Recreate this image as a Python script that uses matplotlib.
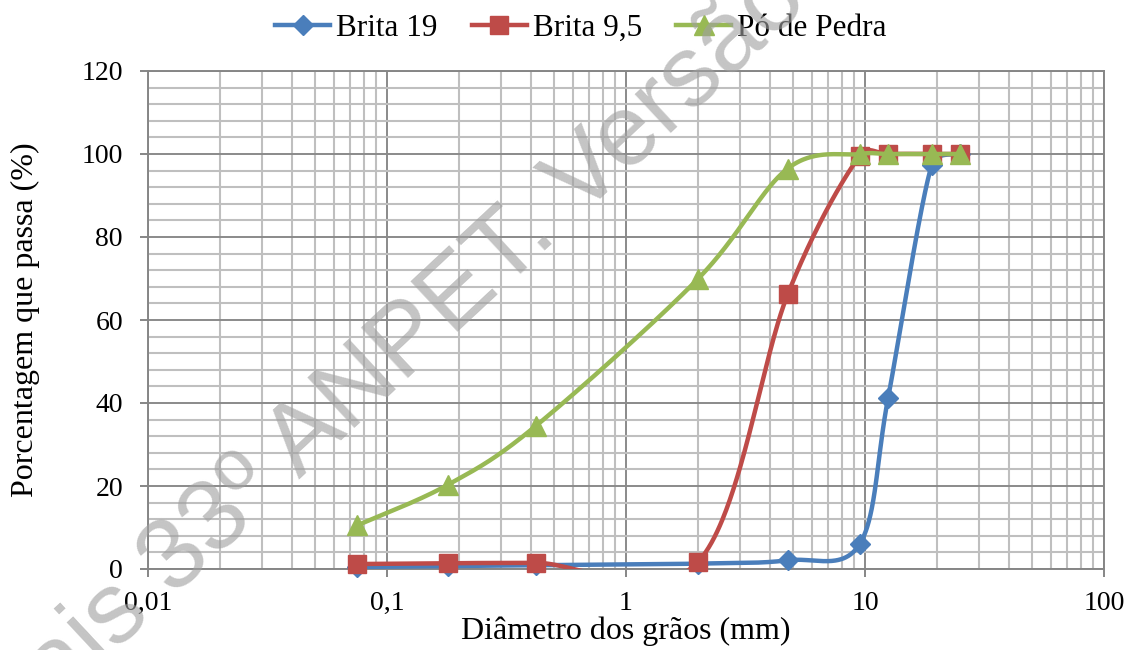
import numpy as np
import matplotlib
matplotlib.use("Agg")
import matplotlib.pyplot as plt
from matplotlib.lines import Line2D
from matplotlib.ticker import FixedLocator, FixedFormatter, LogLocator, MultipleLocator, NullFormatter

# ---- data ----
diam = [0.075, 0.18, 0.42, 2.0, 4.75, 9.5, 12.5, 19.0, 25.0]
brita19 = [0.5, 0.7, 0.9, 1.3, 2.1, 6.0, 41.3, 97.3, 100.0]
brita95 = [1.2, 1.4, 1.5, 1.7, 66.2, 99.6, 100.0, 100.0, 100.0]
po_pedra = [10.5, 20.3, 34.5, 69.9, 96.5, 100.0, 100.0, 100.0, 100.0]
series_names = ["Brita 19", "Brita 9,5", "Pó de Pedra"]
x_ticks = [0.01, 0.1, 1, 10, 100]
x_ticklabels = ["0,01", "0,1", "1", "10", "100"]
y_ticks = [0, 20, 40, 60, 80, 100, 120]

colors = ["#4A7EBB", "#BE4B48", "#98B954"]
markers = ["D", "s", "^"]
msizes = [10.5, 13.5, 14]

plt.rcParams['font.family'] = ['Liberation Serif', 'DejaVu Serif']


def excel_smooth(ax, xs, ys, n=80):
    """Excel-like smoothed line: cubic Bezier, Catmull-Rom tangents with arm length
    clamped to half the segment, computed in screen pixels."""
    P = ax.transData.transform(np.column_stack([xs, ys]).astype(float))
    m = len(P)
    out = []
    for i in range(m - 1):
        p0 = P[i - 1] if i > 0 else P[i]
        p1 = P[i]
        p2 = P[i + 1]
        p3 = P[i + 2] if i + 2 < m else P[i + 1]
        d12 = np.hypot(*(p2 - p1))
        v02 = p2 - p0
        v13 = p3 - p1
        d02 = np.hypot(*v02)
        d13 = np.hypot(*v13)
        a1 = min(d02 / 6.0, d12 / 2.0)
        a2 = min(d13 / 6.0, d12 / 2.0)
        c1 = p1 + (v02 / d02 * a1 if d02 > 0 else 0)
        c2 = p2 - (v13 / d13 * a2 if d13 > 0 else 0)
        t = np.linspace(0, 1, n)[:, None]
        b = ((1 - t) ** 3) * p1 + 3 * ((1 - t) ** 2) * t * c1 + 3 * (1 - t) * t ** 2 * c2 + t ** 3 * p2
        out.append(b if i == 0 else b[1:])
    B = np.vstack(out)
    D = ax.transData.inverted().transform(B)
    return D[:, 0], D[:, 1]


fig = plt.figure(figsize=(11.26, 6.5), dpi=100)
ax = fig.add_axes([148 / 1126, 81 / 650, (1104 - 148) / 1126, (569 - 71) / 650])

ax.set_xscale('log')
ax.set_xlim(0.01, 100)
ax.set_ylim(0, 120)

# grid
ax.xaxis.set_major_locator(FixedLocator(x_ticks))
ax.xaxis.set_major_formatter(FixedFormatter(x_ticklabels))
ax.xaxis.set_minor_locator(LogLocator(base=10, subs=np.arange(2, 10)))
ax.xaxis.set_minor_formatter(NullFormatter())
ax.yaxis.set_major_locator(FixedLocator(y_ticks))
ax.yaxis.set_minor_locator(MultipleLocator(4))

ax.grid(which='minor', color='#BFBFBF', linewidth=1.5, zorder=0)
ax.grid(which='major', color='#8A8A8A', linewidth=1.4, zorder=0.5)
ax.set_axisbelow(True)

for s in ax.spines.values():
    s.set_color('#868686')
    s.set_linewidth(1.4)

ax.tick_params(which='major', direction='out', length=6, width=1.4, color='#868686',
               labelsize=20)
ax.tick_params(axis='y', which='major', pad=12)
ax.tick_params(axis='x', which='major', pad=10)
ax.tick_params(which='minor', length=0)

data = [brita19, brita95, po_pedra]
handles = []
for k, ys in enumerate(data):
    sx, sy = excel_smooth(ax, diam, ys)
    ax.plot(sx, sy, color=colors[k], linewidth=3.2, solid_capstyle='round', zorder=3 + k)
    ax.plot(diam, ys, linestyle='none', marker=markers[k], markersize=msizes[k],
            color=colors[k], markeredgecolor=colors[k], zorder=3.5 + k, clip_on=False)
    handles.append(Line2D([0], [0], color=colors[k], linewidth=3.2, marker=markers[k],
                          markersize=msizes[k], markeredgecolor=colors[k]))

ax.set_xlabel("Diâmetro dos grãos (mm)", fontsize=23, labelpad=0)
ax.set_ylabel("Porcentagem que passa (%)", fontsize=23, labelpad=30)

fig.legend(handles, series_names, loc='center', bbox_to_anchor=(581 / 1126, 1 - 28 / 650),
           ncol=3, frameon=False, fontsize=22.5, handlelength=1.75, handletextpad=0.2,
           columnspacing=1.1, borderpad=0, borderaxespad=0)

# watermark
fig.text(-33 / 1126, 1 - 789 / 650, "Anais 33º ANPET. Versão Final", rotation=43,
         rotation_mode='anchor', ha='left', va='baseline', fontsize=73,
         family='Liberation Sans', color='#A0A0A0', alpha=0.62, zorder=10)

fig.savefig("out.png", dpi=100)
